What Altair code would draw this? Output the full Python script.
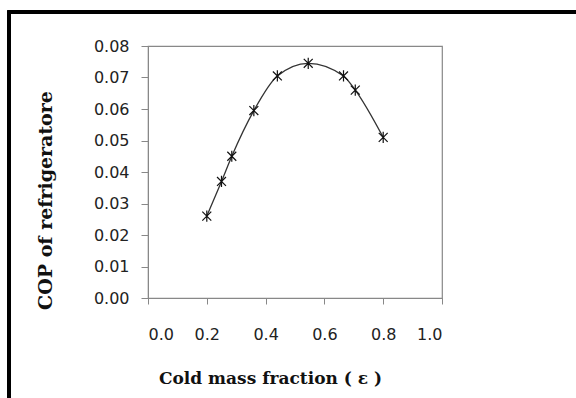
import altair as alt
import pandas as pd

cold_fraction = [0.20, 0.25, 0.285, 0.36, 0.44, 0.545, 0.665, 0.705, 0.80]
cop = [0.026, 0.037, 0.045, 0.0595, 0.0705, 0.0745, 0.0705, 0.066, 0.051]
x_ticks = [0, 0.2, 0.4, 0.6, 0.8, 1.0]
y_ticks = [0, 0.01, 0.02, 0.03, 0.04, 0.05, 0.06, 0.07, 0.08]

df = pd.DataFrame({"x": cold_fraction, "y": cop})

x_enc = alt.X("x:Q", scale=alt.Scale(domain=[0, 1.0], nice=False),
              axis=alt.Axis(values=x_ticks, format=".1f",
                            title="Cold mass fraction ( ε )", grid=False,
                            tickSize=6, labelPadding=22, titlePadding=28,
                            titleX=122, domainColor="#888", tickColor="#888",
                            labelOverlap=False))
y_enc = alt.Y("y:Q", scale=alt.Scale(domain=[0, 0.08], nice=False),
              axis=alt.Axis(values=y_ticks, tickCount=9,
                            format=".2f", title="COP of refrigeratore", grid=False,
                            tickSize=7, labelPadding=12, titlePadding=38, titleY=154,
                            domainColor="#888", tickColor="#888", labelOverlap=False))

line = alt.Chart(df).mark_line(color="#333", strokeWidth=1.3, interpolate="monotone").encode(x=x_enc, y=y_enc)
pts = alt.Chart(df).mark_point(
    shape="M-1,-1L1,1M-1,1L1,-1M0,-1.25L0,1.25", size=80, filled=False,
    color="#111", strokeWidth=1.2, opacity=1).encode(x=x_enc, y=y_enc)

frame = alt.Chart(df).mark_rect(fill=None, stroke="black", strokeWidth=3, clip=False).encode(
    x=alt.value(-139), x2=alt.value(460), y=alt.value(-34), y2=alt.value(380))

chart = alt.layer(frame, line, pts).properties(
    width=294, height=252,
    padding={"left": 148, "top": 46, "right": 134, "bottom": 100},
    autosize=alt.AutoSizeParams(type="none"),
).configure(background="white").configure_view(stroke="#888", strokeWidth=1.2).configure_axis(
    labelFont="DejaVu Sans", labelFontSize=16, labelColor="#222",
    titleFont="DejaVu Serif", titleFontWeight="bold", titleColor="#111",
).configure_axisX(titleFontSize=17).configure_axisY(titleFontSize=19)

chart.save("out.html", embed_options={"renderer": "svg", "actions": False})
